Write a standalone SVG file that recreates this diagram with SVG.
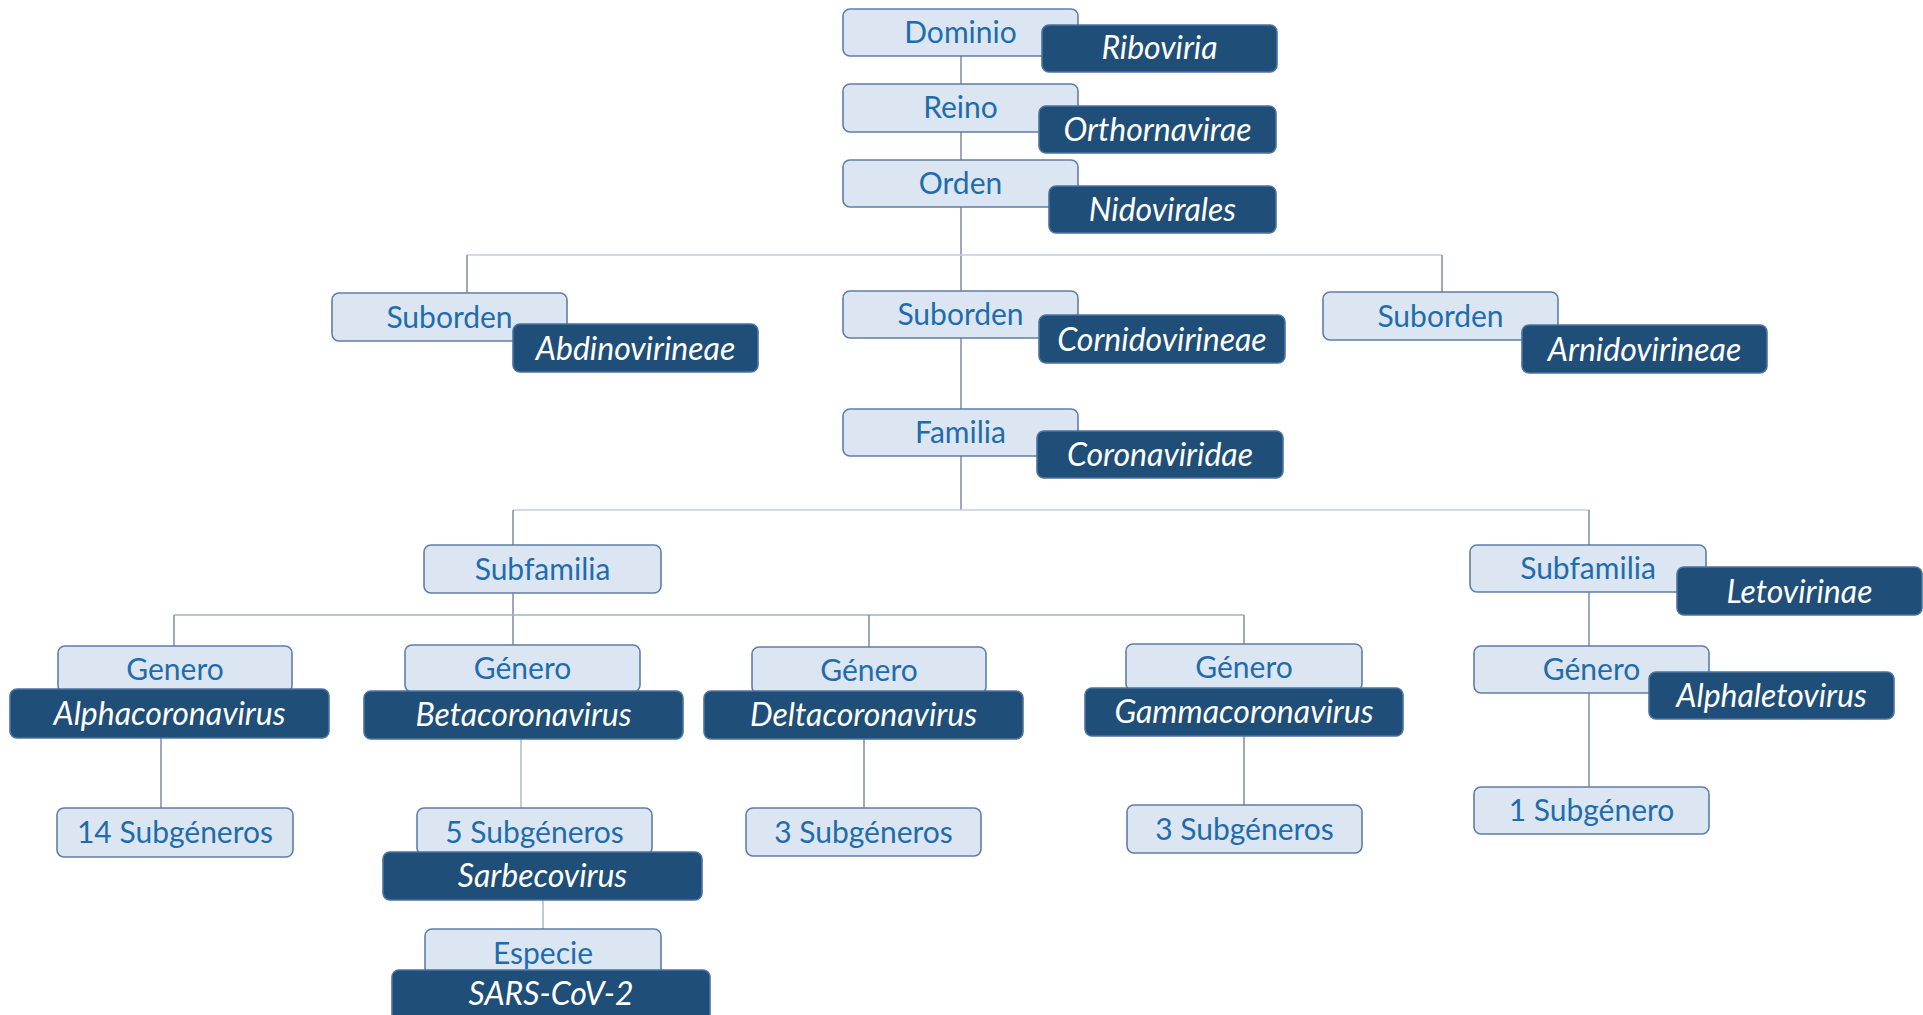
<svg xmlns="http://www.w3.org/2000/svg" width="1923" height="1015" viewBox="0 0 1923 1015">
  <style>
    .rank rect { fill: #dce6f2; stroke: #5f7ea6; stroke-width: 1.6; }
    .taxon rect { fill: #1f4e79; stroke: #4c73a0; stroke-width: 1.6; }
    .rank text { font-family: Lato, "Open Sans", sans-serif; font-size: 30px; fill: #1f6cad; text-anchor: middle; }
    .taxon text { font-family: Lato, "Open Sans", sans-serif; font-size: 32px; font-style: italic; fill: #ffffff; text-anchor: middle; }
    .v { stroke: #8495aa; stroke-width: 1.6; fill: none; }
    .h { stroke: #c3ceda; stroke-width: 1.6; fill: none; }
    .h2 { stroke: #a6b1bf; stroke-width: 1.6; fill: none; }
  </style>
  <rect width="1923" height="1015" fill="#ffffff"/>

  <!-- tree connectors -->
  <g id="connectors">
    <line class="v" x1="961" y1="56" x2="961" y2="510"/>
    <line class="h" x1="467" y1="255" x2="1442" y2="255"/>
    <line class="v" x1="467" y1="255" x2="467" y2="293"/>
    <line class="v" x1="1442" y1="255" x2="1442" y2="292"/>
    <line class="h" x1="513" y1="510" x2="1589" y2="510"/>
    <line class="v" x1="513" y1="510" x2="513" y2="645"/>
    <line class="v" x1="1589" y1="510" x2="1589" y2="787"/>
    <line class="h2" x1="174" y1="615" x2="1244" y2="615"/>
    <line class="v" x1="174" y1="615" x2="174" y2="646"/>
    <line class="v" x1="869" y1="615" x2="869" y2="647"/>
    <line class="v" x1="1244" y1="615" x2="1244" y2="644"/>
    <line class="v" x1="161" y1="738" x2="161" y2="808"/>
    <line class="h" x1="521" y1="739" x2="521" y2="808" style="stroke:#b3bfcc"/>
    <line class="v" x1="864" y1="739" x2="864" y2="808"/>
    <line class="v" x1="1244" y1="736" x2="1244" y2="805"/>
    <line class="h" x1="543" y1="900" x2="543" y2="929" style="stroke:#b3bfcc"/>
  </g>

  <!-- order level -->
  <g id="dominio" class="rank"><rect x="843" y="9" width="235" height="47" rx="7"/><text x="960.5" y="43">Dominio</text></g>
  <g id="riboviria" class="taxon"><rect x="1042" y="25" width="235" height="47" rx="7"/><text x="1159.5" y="59">Riboviria</text></g>

  <g id="reino" class="rank"><rect x="843" y="84" width="235" height="48" rx="7"/><text x="960.5" y="118">Reino</text></g>
  <g id="orthornavirae" class="taxon"><rect x="1039" y="106" width="237" height="47" rx="7"/><text x="1157.5" y="141">Orthornavirae</text></g>

  <g id="orden" class="rank"><rect x="843" y="160" width="235" height="47" rx="7"/><text x="960.5" y="194">Orden</text></g>
  <g id="nidovirales" class="taxon"><rect x="1049" y="186" width="227" height="47" rx="7"/><text x="1162.5" y="221">Nidovirales</text></g>

  <!-- suborders -->
  <g id="suborden-1" class="rank"><rect x="332" y="293" width="235" height="48" rx="7"/><text x="449.5" y="328">Suborden</text></g>
  <g id="abdinovirineae" class="taxon"><rect x="513" y="324" width="245" height="48" rx="7"/><text x="635.5" y="360">Abdinovirineae</text></g>

  <g id="suborden-2" class="rank"><rect x="843" y="291" width="235" height="47" rx="7"/><text x="960.5" y="325">Suborden</text></g>
  <g id="cornidovirineae" class="taxon"><rect x="1039" y="315" width="246" height="48" rx="7"/><text x="1162" y="351">Cornidovirineae</text></g>

  <g id="suborden-3" class="rank"><rect x="1323" y="292" width="235" height="48" rx="7"/><text x="1440.5" y="327">Suborden</text></g>
  <g id="arnidovirineae" class="taxon"><rect x="1522" y="325" width="245" height="48" rx="7"/><text x="1644.5" y="361">Arnidovirineae</text></g>

  <!-- family -->
  <g id="familia" class="rank"><rect x="843" y="409" width="235" height="47" rx="7"/><text x="960.5" y="443">Familia</text></g>
  <g id="coronaviridae" class="taxon"><rect x="1037" y="431" width="246" height="47" rx="7"/><text x="1160" y="466">Coronaviridae</text></g>

  <!-- subfamilies -->
  <g id="subfamilia-1" class="rank"><rect x="424" y="545" width="237" height="48" rx="7"/><text x="542.5" y="580">Subfamilia</text></g>

  <g id="subfamilia-2" class="rank"><rect x="1470" y="545" width="236" height="47" rx="7"/><text x="1588" y="579">Subfamilia</text></g>
  <g id="letovirinae" class="taxon"><rect x="1677" y="567" width="245" height="48" rx="7"/><text x="1799.5" y="603">Letovirinae</text></g>

  <!-- genera -->
  <g id="genero-alpha" class="rank"><rect x="58" y="646" width="234" height="47" rx="7"/><text x="175" y="680">Genero</text></g>
  <g id="alphacoronavirus" class="taxon"><rect x="10" y="689" width="319" height="49" rx="7"/><text x="169.5" y="725">Alphacoronavirus</text></g>

  <g id="genero-beta" class="rank"><rect x="405" y="645" width="235" height="47" rx="7"/><text x="522.5" y="679">Género</text></g>
  <g id="betacoronavirus" class="taxon"><rect x="364" y="691" width="319" height="48" rx="7"/><text x="523.5" y="726">Betacoronavirus</text></g>

  <g id="genero-delta" class="rank"><rect x="752" y="647" width="234" height="47" rx="7"/><text x="869" y="681">Género</text></g>
  <g id="deltacoronavirus" class="taxon"><rect x="704" y="691" width="319" height="48" rx="7"/><text x="863.5" y="726">Deltacoronavirus</text></g>

  <g id="genero-gamma" class="rank"><rect x="1126" y="644" width="236" height="47" rx="7"/><text x="1244" y="678">Género</text></g>
  <g id="gammacoronavirus" class="taxon"><rect x="1085" y="688" width="318" height="48" rx="7"/><text x="1244" y="723">Gammacoronavirus</text></g>

  <g id="genero-leto" class="rank"><rect x="1474" y="646" width="235" height="47" rx="7"/><text x="1591.5" y="680">Género</text></g>
  <g id="alphaletovirus" class="taxon"><rect x="1649" y="672" width="245" height="47" rx="7"/><text x="1771.5" y="707">Alphaletovirus</text></g>

  <!-- subgenera -->
  <g id="subgeneros-alpha" class="rank"><rect x="57" y="808" width="236" height="49" rx="7"/><text x="175" y="843">14 Subgéneros</text></g>

  <g id="subgeneros-beta" class="rank"><rect x="417" y="808" width="235" height="47" rx="7"/><text x="534.5" y="843">5 Subgéneros</text></g>
  <g id="sarbecovirus" class="taxon"><rect x="383" y="852" width="319" height="48" rx="7"/><text x="542.5" y="887">Sarbecovirus</text></g>

  <g id="subgeneros-delta" class="rank"><rect x="746" y="808" width="235" height="48" rx="7"/><text x="863.5" y="843">3 Subgéneros</text></g>

  <g id="subgeneros-gamma" class="rank"><rect x="1127" y="805" width="235" height="48" rx="7"/><text x="1244.5" y="840">3 Subgéneros</text></g>

  <g id="subgenero-leto" class="rank"><rect x="1474" y="787" width="235" height="47" rx="7"/><text x="1591.5" y="821">1 Subgénero</text></g>

  <!-- species -->
  <g id="especie" class="rank"><rect x="425" y="929" width="236" height="47" rx="7"/><text x="543" y="964">Especie</text></g>
  <g id="sars-cov-2" class="taxon"><rect x="392" y="970" width="318" height="56" rx="7"/><text x="551" y="1005">SARS-CoV-2</text></g>
</svg>
